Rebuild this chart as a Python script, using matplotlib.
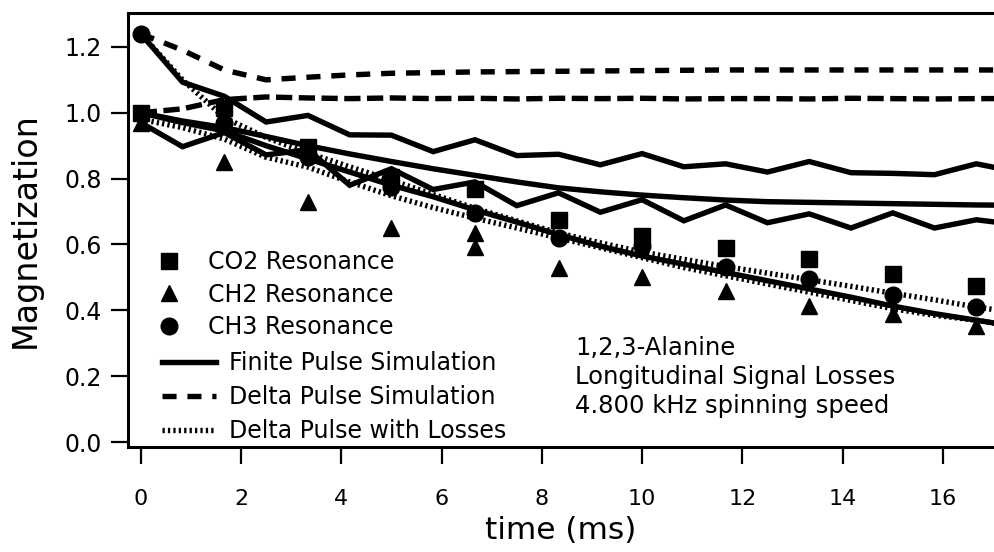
import matplotlib
matplotlib.use("Agg")
import matplotlib.pyplot as plt

plt.rcParams["font.family"] = ["DejaVu Sans"]

# measured points (time in ms)
t_pts = [0, 1.667, 3.333, 5.0, 6.667, 8.333, 10.0, 11.667, 13.333, 15.0, 16.667]
co2 = [1.0, 1.015, 0.895, 0.805, 0.77, 0.675, 0.625, 0.59, 0.555, 0.51, 0.473]
ch3 = [1.24, 0.97, 0.865, 0.776, 0.697, 0.62, 0.595, 0.533, 0.494, 0.446, 0.409]
ch2_t = [0, 1.667, 3.333, 5.0, 6.667, 6.667, 8.333, 10.0, 11.667, 13.333, 15.0, 16.667]
ch2 = [0.97, 0.85, 0.73, 0.65, 0.636, 0.592, 0.53, 0.50, 0.458, 0.412, 0.388, 0.352]

# simulations, sampled every 0.833 ms
t_sim = [0, 0.833, 1.667, 2.5, 3.333, 4.167, 5.0, 5.833, 6.667, 7.5, 8.333,
         9.167, 10.0, 10.833, 11.667, 12.5, 13.333, 14.167, 15.0, 15.833,
         16.667, 17.5]
delta_ch3 = [1.24, 1.19, 1.13, 1.10, 1.108, 1.115, 1.12, 1.122, 1.124, 1.125,
             1.126, 1.127, 1.128, 1.129, 1.13, 1.13, 1.13, 1.13, 1.13, 1.13,
             1.13, 1.13]
delta_co2 = [1.0, 1.012, 1.04, 1.048, 1.045, 1.043, 1.045, 1.043, 1.044, 1.042,
             1.044, 1.043, 1.044, 1.042, 1.043, 1.043, 1.042, 1.044, 1.043,
             1.042, 1.043, 1.043]
finite_ch3 = [1.24, 1.093, 1.05, 0.972, 0.992, 0.933, 0.932, 0.882, 0.918, 0.87,
              0.874, 0.842, 0.876, 0.836, 0.845, 0.82, 0.852, 0.818, 0.816,
              0.812, 0.845, 0.82]
finite_co2 = [1.0, 0.975, 0.955, 0.928, 0.90, 0.875, 0.852, 0.83, 0.81, 0.79,
              0.772, 0.76, 0.75, 0.742, 0.735, 0.73, 0.728, 0.726, 0.724, 0.722,
              0.72, 0.719]
finite_ch2 = [0.97, 0.897, 0.94, 0.872, 0.888, 0.78, 0.83, 0.767, 0.79, 0.718,
              0.757, 0.698, 0.736, 0.672, 0.72, 0.666, 0.693, 0.65, 0.696, 0.65,
              0.675, 0.66]
finite_loss = [1.0, 0.97, 0.945, 0.9, 0.86, 0.82, 0.78, 0.745, 0.705, 0.668,
               0.63, 0.595, 0.565, 0.54, 0.515, 0.49, 0.465, 0.44, 0.413, 0.39,
               0.37, 0.35]
loss_ch3 = [1.24, 1.10, 0.985, 0.925, 0.878, 0.836, 0.795, 0.752, 0.71, 0.672,
            0.635, 0.605, 0.577, 0.555, 0.533, 0.513, 0.493, 0.473, 0.452,
            0.432, 0.41, 0.392]
loss_co2 = [0.98, 0.955, 0.92, 0.865, 0.835, 0.79, 0.748, 0.712, 0.68, 0.65,
            0.62, 0.59, 0.56, 0.53, 0.505, 0.48, 0.455, 0.43, 0.405, 0.385,
            0.37, 0.35]

fig = plt.figure(figsize=(9.94, 5.52), dpi=100)
ax = fig.add_axes([128 / 994, 105 / 552, 866 / 994, 434 / 552])

lw = 3.9
solid = dict(color="black", lw=lw, solid_joinstyle="miter")
l_fin, = ax.plot(t_sim, finite_ch3, **solid)
ax.plot(t_sim, finite_co2, **solid)
ax.plot(t_sim, finite_ch2, **solid)
ax.plot(t_sim, finite_loss, **solid)

l_del, = ax.plot(t_sim, delta_ch3, color="black", lw=lw, ls=(0, (2.6, 2.0)))
ax.plot(t_sim, delta_co2, color="black", lw=lw, ls=(0, (3.0, 1.2)))

dots = dict(color="black", lw=lw, ls=(0, (0.42, 0.58)), dash_capstyle="butt")
l_los, = ax.plot(t_sim, loss_ch3, **dots)
ax.plot(t_sim, loss_co2, **dots)

ms = 12
m_co2, = ax.plot(t_pts, co2, "s", color="black", ms=ms, zorder=5)
m_ch2, = ax.plot(ch2_t, ch2, "^", color="black", ms=ms, zorder=5)
m_ch3, = ax.plot(t_pts, ch3, "o", color="black", ms=ms, zorder=5)

ax.set_xlim(-0.255, 17.02)
ax.set_ylim(-0.015, 1.303)
ax.set_xticks([0, 2, 4, 6, 8, 10, 12, 14, 16])
ax.set_yticks([0.0, 0.2, 0.4, 0.6, 0.8, 1.0, 1.2])
ax.set_yticklabels(["0.0", "0.2", "0.4", "0.6", "0.8", "1.0", "1.2"])
ax.tick_params(axis="both", direction="out", length=12, width=1.6, color="black")
ax.tick_params(axis="x", labelsize=16, pad=18)
ax.tick_params(axis="y", labelsize=17, pad=7)
ax.spines["right"].set_visible(False)
for s in ["left", "bottom", "top"]:
    ax.spines[s].set_linewidth(2.2)

ax.set_xlabel("time (ms)", fontsize=22.5, labelpad=5)
ax.set_ylabel("Magnetization", fontsize=24, labelpad=16)

leg1 = ax.legend([m_co2, m_ch2, m_ch3],
                 ["CO2 Resonance", "CH2 Resonance", "CH3 Resonance"],
                 loc="upper left", bbox_to_anchor=(157 / 994, 1 - 250 / 552),
                 bbox_transform=fig.transFigure, frameon=False, fontsize=17,
                 borderpad=0, borderaxespad=0, handlelength=1.0,
                 handletextpad=1.15, labelspacing=0.36)
ax.add_artist(leg1)
ax.legend([l_fin, l_del, l_los],
          ["Finite Pulse Simulation", "Delta Pulse Simulation",
           "Delta Pulse with Losses"],
          loc="upper left", bbox_to_anchor=(162 / 994, 1 - 351 / 552),
          bbox_transform=fig.transFigure, frameon=False, fontsize=17,
          borderpad=0, borderaxespad=0, handlelength=2.3,
          handletextpad=0.55, labelspacing=0.42)

ax.text(0.516, 0.161,
        "1,2,3-Alanine\nLongitudinal Signal Losses\n4.800 kHz spinning speed",
        transform=ax.transAxes, fontsize=17.5, ha="left", va="center",
        linespacing=1.28)

fig.savefig("out.png", dpi=100)
